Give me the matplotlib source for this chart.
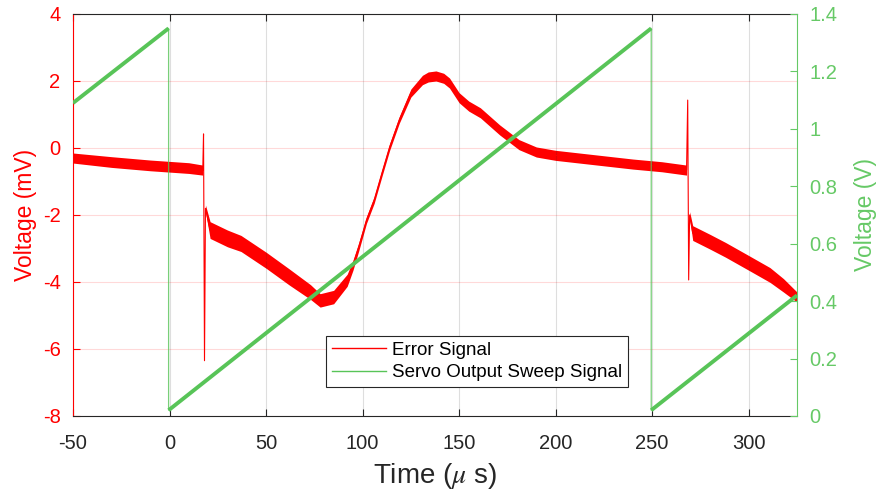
import numpy as np
import matplotlib
matplotlib.use("Agg")
import matplotlib.pyplot as plt
from matplotlib.ticker import FuncFormatter

plt.rcParams['font.family'] = ['Liberation Sans', 'DejaVu Sans']
plt.rcParams['axes.unicode_minus'] = False
plt.rcParams['mathtext.fontset'] = 'stix'

# error signal (mV)
err_t = [-50, -30, -10, 10, 17.2, 17.6, 18.1, 18.6, 21, 30, 37, 50, 62, 73, 78, 85, 92, 95, 98,
         102, 106, 110, 114, 119, 125, 131, 134, 138, 142, 145, 150, 155, 161, 171, 181, 190,
         200, 220, 240, 255, 267.8, 268.4, 268.9, 269.4, 271, 280, 288, 300, 311, 318, 325]
err_v = [-0.3, -0.42, -0.52, -0.6, -0.66, 0.42, -6.35, -1.8, -2.45, -2.7, -2.85, -3.35, -3.85,
         -4.3, -4.55, -4.45, -3.95, -3.5, -2.95, -2.15, -1.55, -0.75, 0.03, 0.84, 1.64, 2.03,
         2.12, 2.15, 2.08, 1.94, 1.5, 1.25, 1.05, 0.54, 0.1, -0.12, -0.22, -0.35, -0.48, -0.56,
         -0.66, 1.43, -3.94, -2.0, -2.54, -2.8, -3.04, -3.43, -3.79, -4.1, -4.45]
# half-width of the noise band around the trace
err_noise = [0.15, 0.16, 0.16, 0.16, 0.15, 0.0, 0.0, 0.1, 0.25, 0.25, 0.24, 0.24, 0.24, 0.22,
             0.2, 0.2, 0.18, 0.15, 0.12, 0.1, 0.1, 0.1, 0.1, 0.1, 0.12, 0.14, 0.15, 0.15, 0.15,
             0.15, 0.15, 0.15, 0.15, 0.15, 0.15, 0.15, 0.15, 0.15, 0.15, 0.15, 0.15, 0.0, 0.0,
             0.1, 0.22, 0.22, 0.22, 0.22, 0.22, 0.2, 0.15]

# servo sweep (V)
sweep_t = [-50, -0.5, -0.5, 249.5, 249.5, 325]
sweep_v = [1.09, 1.35, 0.02, 1.35, 0.02, 0.42]

xticks = [-50, 0, 50, 100, 150, 200, 250, 300]
red = '#ff0000'
green = '#66c966'
green_line = '#58c458'
dark = '#262626'

fig = plt.figure(figsize=(8.82, 4.98), dpi=100)
ax = fig.add_axes([0.0828, 0.1647, 0.8208, 0.8072])
ax2 = ax.twinx()

t = np.array(err_t)
v = np.array(err_v)
n = np.array(err_noise)
ax.fill_between(t, v - n, v + n, color=red, lw=0)
l1, = ax.plot(t, v, color=red, lw=0.8, label='Error Signal')

l2, = ax2.plot(sweep_t, sweep_v, color=green_line, lw=0.9, alpha=0.8,
               label='Servo Output Sweep Signal')
for i in range(0, len(sweep_t), 2):
    ax2.plot(sweep_t[i:i + 2], sweep_v[i:i + 2], color=green_line, lw=2.8,
             solid_capstyle='butt')

ax.set_xlim(-50, 325)
ax.set_ylim(-8, 4)
ax2.set_ylim(0, 1.4)
ax.set_xticks(xticks)
ax.set_yticks(np.arange(-8, 5, 2))
ax2.set_yticks(np.arange(0, 1.41, 0.2))
ax2.yaxis.set_major_formatter(FuncFormatter(lambda x, p: '%g' % round(x, 1)))

ax.grid(axis='y', color=red, alpha=0.15, lw=0.8)
ax.grid(axis='x', color=dark, alpha=0.15, lw=0.8)

for s in ['top', 'bottom']:
    ax.spines[s].set_color(dark)
ax.spines['left'].set_color(red)
ax.spines['right'].set_visible(False)
for s in ['top', 'bottom', 'left']:
    ax2.spines[s].set_visible(False)
ax2.spines['right'].set_color(green)

ax.tick_params(axis='x', direction='in', length=5, top=True, colors=dark,
               labelsize=14.5, pad=13)
ax.tick_params(axis='y', direction='in', length=5, colors=red, labelsize=14.5, pad=9)
ax2.tick_params(axis='y', direction='in', length=5, colors=green, labelsize=14.5, pad=9)

ax.set_xlabel(r'Time ($\mu$ s)', fontsize=20, color=dark, labelpad=6)
ax.set_ylabel('Voltage (mV)', fontsize=16.5, color=red, labelpad=4)
ax2.set_ylabel('Voltage (V)', fontsize=16.5, color=green, labelpad=12)

leg = ax2.legend(handles=[l1, l2], loc='lower left', bbox_to_anchor=(0.35, 0.072),
                 fontsize=13.5, handlelength=2.9, frameon=True, fancybox=False,
                 borderaxespad=0, borderpad=0.3, labelspacing=0.3, handletextpad=0.3)
leg.get_frame().set_edgecolor(dark)
leg.get_frame().set_linewidth(0.8)
leg.get_frame().set_alpha(1)
for h in leg.get_lines():
    h.set_linewidth(1.0)
    h.set_alpha(1)

fig.savefig('out.png', dpi=100)
